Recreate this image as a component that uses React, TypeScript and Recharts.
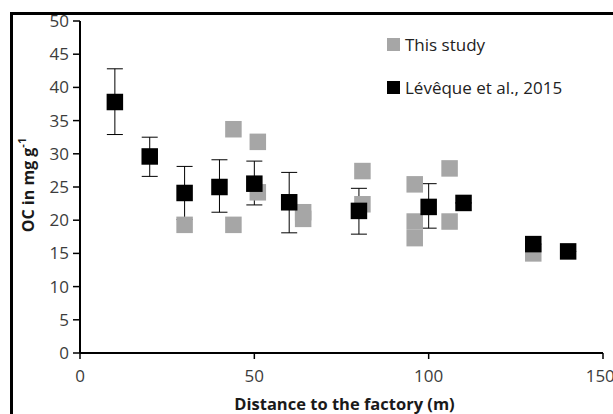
import React from "react";
import { ScatterChart, Scatter, XAxis, YAxis, ZAxis, ErrorBar, Legend } from "recharts";

const studyName = "This study";
const studyX = [30, 44, 44, 51, 51, 64, 64, 81, 81, 96, 96, 96, 106, 106, 130];
const studyY = [19.3, 33.7, 19.3, 31.8, 24.2, 21.2, 20.2, 27.4, 22.4, 25.4, 19.8, 17.3, 27.8, 19.8, 15.0];

const leveqName = "Lévêque et al., 2015";
const leveqX = [10, 20, 30, 40, 50, 60, 80, 100, 110, 130, 140];
const leveqY = [37.8, 29.6, 24.1, 25.0, 25.5, 22.7, 21.4, 22.0, 22.6, 16.4, 15.3];
const leveqErrLow = [4.9, 3.0, 4.0, 3.8, 3.2, 4.6, 3.5, 3.2, 0, 0, 0];
const leveqErrHigh = [5.0, 2.9, 4.0, 4.1, 3.4, 4.5, 3.4, 3.5, 0, 0, 0];

const legendOrder = [studyName, leveqName];

const xTicks = [0, 50, 100, 150];
const yTicks = [0, 5, 10, 15, 20, 25, 30, 35, 40, 45, 50];

const xTitle = "Distance to the factory (m)";
const yTitle = "OC in mg g";
const yTitleSup = "-1";

const studyData = studyX.map((x, i) => ({ x, y: studyY[i] }));
const leveqData = leveqX.map((x, i) => ({ x, y: leveqY[i], err: [leveqErrLow[i], leveqErrHigh[i]] }));

const FONT = "'Open Sans', 'DejaVu Sans', sans-serif";
const GRAY = "#a6a6a6";
const BLACK = "#000000";
const TICK_COLOR = "#3c3c3c";

const Square = (props: any) => {
  const { cx, cy, fill } = props;
  const s = 16.5;
  return <rect x={cx - s / 2} y={cy - s / 2} width={s} height={s} fill={fill} />;
};

const LegendContent = (props: any) => {
  const payload = [...(props.payload || [])].sort(
    (a: any, b: any) => legendOrder.indexOf(a.value) - legendOrder.indexOf(b.value)
  );
  return (
    <div style={{ fontFamily: FONT, fontSize: 17, color: "#222" }}>
      {payload.map((p: any, i: number) => (
        <div key={i} style={{ display: "flex", alignItems: "center", height: 43 }}>
          <span style={{ display: "inline-block", width: 13, height: 13, background: p.color, marginRight: 5 }} />
          <span>{p.value}</span>
        </div>
      ))}
    </div>
  );
};

const YTitle = (props: any) => {
  const vb = props.viewBox || {};
  const cx = (vb.x || 0) + 28;
  const cy = (vb.y || 0) + (vb.height || 0) / 2 - 2;
  return (
    <text
      x={cx}
      y={cy}
      transform={`rotate(-90, ${cx}, ${cy})`}
      textAnchor="middle"
      dominantBaseline="central"
      fontFamily={FONT}
      fontWeight="bold"
      fontSize={16}
      fill="#1a1a1a"
    >
      {yTitle}
      <tspan dy={-7} fontSize={11}>{yTitleSup}</tspan>
    </text>
  );
};

const XTitle = (props: any) => {
  const vb = props.viewBox || {};
  const cx = (vb.x || 0) + (vb.width || 0) / 2 + 3;
  return (
    <text x={cx} y={403} textAnchor="middle" dominantBaseline="central" fontFamily={FONT} fontWeight="bold" fontSize={16.5} fill="#1a1a1a">
      {xTitle}
    </text>
  );
};

export default function App() {
  return (
    <div style={{ position: "absolute", left: 0, top: 0, width: 613, height: 414, background: "#fff", overflow: "hidden" }}>
      <div style={{ position: "absolute", left: 10, top: 12, width: 700, height: 500, borderLeft: "3px solid #000", borderTop: "3px solid #000" }} />
      <div style={{ position: "absolute", left: 0, top: 0 }}>
        <ScatterChart width={613} height={414} margin={{ top: 21, right: 10, bottom: 0, left: 0 }}>
          <XAxis
            type="number"
            dataKey="x"
            domain={[0, 150]}
            ticks={xTicks}
            height={61}
            axisLine={{ stroke: "#000", strokeWidth: 2 }}
            tickLine={{ stroke: "#000", strokeWidth: 1.5 }}
            tickSize={6}
            tickMargin={11}
            tick={{ fill: TICK_COLOR, fontSize: 17, fontFamily: FONT }}
            label={<XTitle />}
          />
          <YAxis
            type="number"
            dataKey="y"
            domain={[0, 50]}
            ticks={yTicks}
            width={80}
            axisLine={{ stroke: "#000", strokeWidth: 2 }}
            tickLine={{ stroke: "#000", strokeWidth: 1.5 }}
            tickSize={7}
            tickMargin={4}
            tick={{ fill: TICK_COLOR, fontSize: 17, fontFamily: FONT }}
            label={<YTitle />}
          />
          <ZAxis range={[270, 270]} />
          <Legend
            layout="vertical"
            align="center"
            verticalAlign="middle"
            content={<LegendContent />}
            wrapperStyle={{ position: "absolute", top: 23, left: 387, width: 220 }}
          />
          <Scatter name={studyName} data={studyData} fill={GRAY} shape={<Square />} isAnimationActive={false} />
          <Scatter name={leveqName} data={leveqData} fill={BLACK} shape={<Square />} isAnimationActive={false}>
            <ErrorBar dataKey="err" direction="y" width={8} stroke="#000" strokeWidth={1} />
          </Scatter>
        </ScatterChart>
      </div>
    </div>
  );
}
